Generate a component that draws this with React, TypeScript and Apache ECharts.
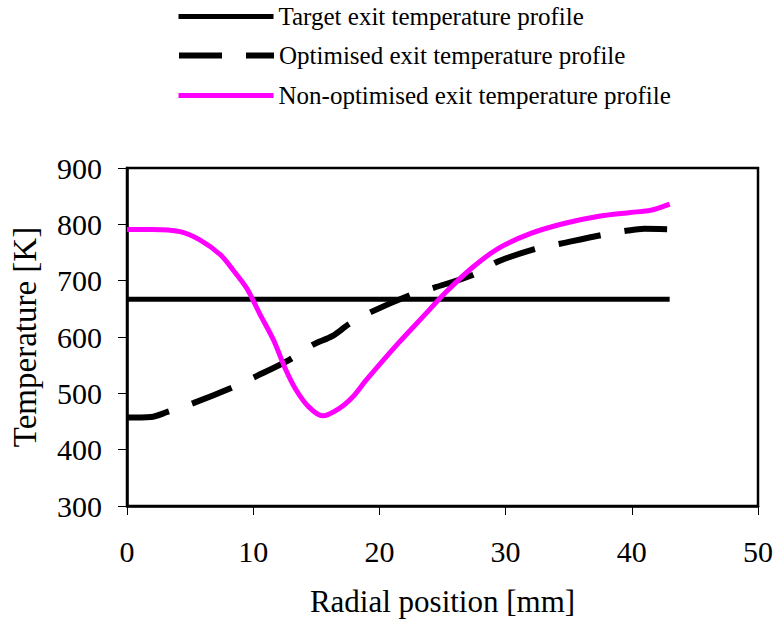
import React, { useEffect, useRef } from "react";
import * as echarts from "echarts";

const seriesNames = [
  "Target exit temperature profile",
  "Optimised exit temperature profile",
  "Non-optimised exit temperature profile",
];

const targetX = [0, 43];
const targetY = [667, 667];

const optX = [0, 1.9, 3.2, 5.3, 8.2, 10.3, 12.9, 14.7, 16.3, 17.6, 19.4, 22.5, 24.4, 27.5, 29.4, 32.3, 34.4, 37.6, 39.7, 41.0, 43];
const optY = [457, 458, 467, 483, 509, 531, 560, 586, 602, 623, 645, 675, 688, 711, 734, 756, 766, 781, 789, 792, 791];

const nonX = [0, 2.0, 4.2, 5.8, 7.4, 8.4, 9.5, 10.5, 11.6, 12.6, 13.4, 14.4, 15.5, 16.8, 17.9, 18.9, 21.5, 23.7, 25.2, 27.3, 29.4, 32.0, 34.7, 37.3, 39.9, 41.5, 43];
const nonY = [791, 791, 787, 772, 746, 719, 686, 642, 595, 541, 506, 476, 460, 473, 494, 522, 589, 642, 678, 722, 757, 784, 802, 814, 821, 825, 836];

const xTicks = { min: 0, max: 50, interval: 10 };
const yTicks = { min: 300, max: 900, interval: 100 };

const zip = (xs: number[], ys: number[]) => xs.map((x, i) => [x, ys[i]]);

const FONT = "'Liberation Serif', 'Times New Roman', serif";
const DASH = [43, 24];

export default function App() {
  const ref = useRef<HTMLDivElement>(null);
  useEffect(() => {
    if (!ref.current) return;
    const chart = echarts.init(ref.current, null, { renderer: "svg" });
    const legendBase = {
      orient: "vertical",
      left: 176,
      padding: 0,
      itemWidth: 95,
      itemHeight: 30,
      itemGap: 10,
      selectedMode: false,
      itemStyle: { opacity: 0 },
      textStyle: { fontFamily: FONT, fontSize: 25, color: "#000" },
    };
    chart.setOption({
      animation: false,
      backgroundColor: "#fff",
      legend: [
        { ...legendBase, top: 4, data: [seriesNames[0]], lineStyle: { width: 5, color: "#000", type: "solid", cap: "butt" } },
        { ...legendBase, top: 43, data: [seriesNames[1]], lineStyle: { width: 6, color: "#000", type: DASH, cap: "butt" } },
        { ...legendBase, top: 83, data: [seriesNames[2]], lineStyle: { width: 5, color: "#ff00ff", type: "solid", cap: "butt" } },
      ],
      grid: {
        left: 123,
        top: 168,
        width: 635,
        height: 338,
        show: true,
        borderColor: "#000",
        borderWidth: 2.5,
        backgroundColor: "transparent",
      },
      xAxis: {
        type: "value",
        min: xTicks.min,
        max: xTicks.max,
        interval: xTicks.interval,
        name: "Radial position [mm]",
        nameLocation: "middle",
        nameGap: 80,
        nameTextStyle: { fontFamily: FONT, fontSize: 31, color: "#000" },
        axisLine: { show: true, onZero: false, lineStyle: { color: "#000", width: 2.5 } },
        axisTick: { show: true, length: 9, lineStyle: { color: "#000", width: 1 } },
        axisLabel: { fontFamily: FONT, fontSize: 30, color: "#000", margin: 30 },
        splitLine: { show: false },
      },
      yAxis: {
        type: "value",
        min: yTicks.min,
        max: yTicks.max,
        interval: yTicks.interval,
        name: "Temperature [K]",
        nameLocation: "middle",
        nameGap: 86,
        nameTextStyle: { fontFamily: FONT, fontSize: 33, color: "#000" },
        axisLine: { show: true, onZero: false, lineStyle: { color: "#000", width: 2.5 } },
        axisTick: { show: true, length: 9, lineStyle: { color: "#000", width: 1 } },
        axisLabel: { fontFamily: FONT, fontSize: 30, color: "#000", margin: 25 },
        splitLine: { show: false },
      },
      series: [
        {
          name: seriesNames[0],
          type: "line",
          data: zip(targetX, targetY),
          symbol: "none",
          lineStyle: { color: "#000", width: 5, cap: "butt" },
          itemStyle: { color: "#000" },
        },
        {
          name: seriesNames[1],
          type: "line",
          data: zip(optX, optY),
          symbol: "none",
          smooth: 0.3,
          lineStyle: { color: "#000", width: 6, type: DASH, cap: "butt" },
          itemStyle: { color: "#000" },
        },
        {
          name: seriesNames[2],
          type: "line",
          data: zip(nonX, nonY),
          symbol: "none",
          smooth: 0.3,
          lineStyle: { color: "#ff00ff", width: 5 },
          itemStyle: { color: "#ff00ff" },
        },
      ],
    });
    return () => chart.dispose();
  }, []);
  return (
    <div
      ref={ref}
      style={{ position: "absolute", left: 0, top: 0, width: 777, height: 631 }}
    />
  );
}
